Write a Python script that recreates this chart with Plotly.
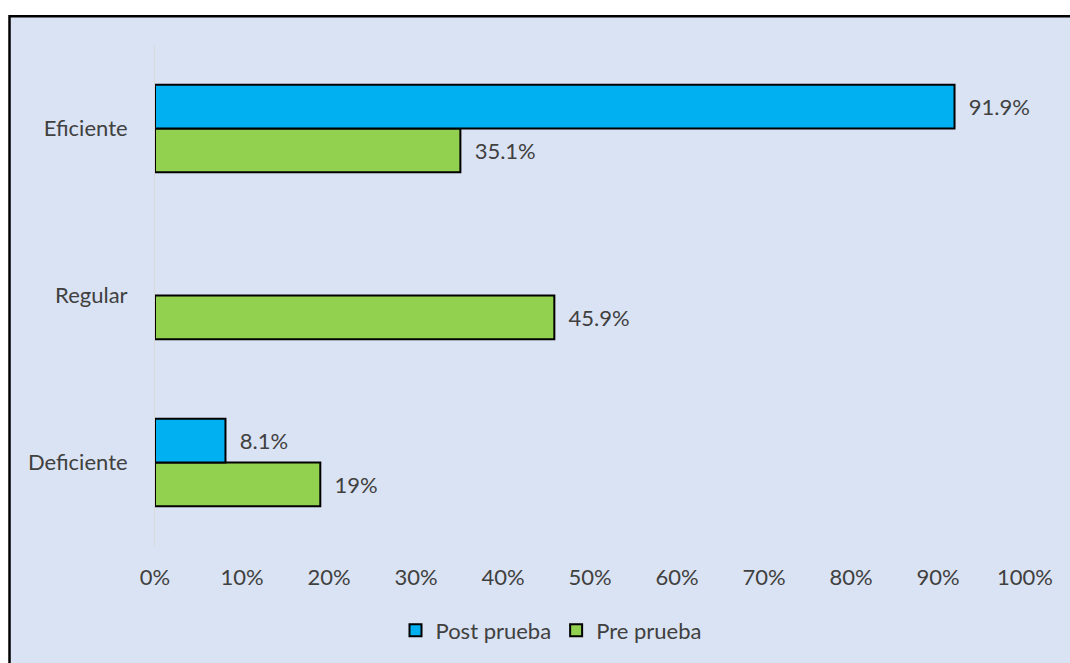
import plotly.graph_objects as go

# Categories (bottom to top) and percentages per series
categories = ["Deficiente", "Regular", "Eficiente"]
post_prueba = [8.1, 0, 91.9]
pre_prueba = [19, 45.9, 35.1]
x_ticks = [0, 10, 20, 30, 40, 50, 60, 70, 80, 90, 100]
x_tick_labels = [f"{t}%" for t in x_ticks]

BLUE = "#00B0F0"
GREEN = "#92D050"
BG = "#DAE3F3"
TEXT = "#404040"
FONT = "Lato"
FS = 22

W, H = 1070, 663
M_L, M_R, M_T, M_B = 155, 45, 45, 113


def px_x(px):
    return (px - M_L) / (W - M_L - M_R)


def px_y(py):
    return (H - M_B - py) / (H - M_T - M_B)


def label(v):
    return "" if v == 0 else "\u00a0\u00a0" + f"{v:g}%"


def outline(values):
    # no border on empty bars
    return [0 if v == 0 else 2 for v in values]


fig = go.Figure()
# Pre prueba first so it sits below Post prueba within each group
fig.add_trace(go.Bar(
    name="Pre prueba", y=categories, x=pre_prueba, orientation="h",
    marker=dict(color=GREEN, line=dict(color="black", width=outline(pre_prueba))),
    text=[label(v) for v in pre_prueba], textposition="outside",
    constraintext="none", cliponaxis=False,
    textfont=dict(family=FONT, size=FS, color=TEXT),
    legendrank=2,
))
fig.add_trace(go.Bar(
    name="Post prueba", y=categories, x=post_prueba, orientation="h",
    marker=dict(color=BLUE, line=dict(color="black", width=outline(post_prueba))),
    text=[label(v) for v in post_prueba], textposition="outside",
    constraintext="none", cliponaxis=False,
    textfont=dict(family=FONT, size=FS, color=TEXT),
    legendrank=1,
))

# Chart frame: filled panel with a black border
fig.add_shape(
    type="rect", xref="paper", yref="paper", layer="below",
    x0=px_x(9.5), x1=px_x(1090), y0=px_y(690), y1=px_y(16),
    fillcolor=BG, line=dict(color="black", width=2.5),
)

fig.update_layout(
    width=W, height=H,
    margin=dict(l=M_L, r=M_R, t=M_T, b=M_B),
    paper_bgcolor="white",
    plot_bgcolor="rgba(0,0,0,0)",
    barmode="group", bargap=0.476, bargroupgap=0,
    font=dict(family=FONT, size=FS, color=TEXT),
    showlegend=True,
    legend=dict(
        orientation="h", x=px_x(551), xanchor="center",
        y=px_y(635), yanchor="middle",
        font=dict(family=FONT, size=FS, color=TEXT),
        bgcolor="rgba(0,0,0,0)",
    ),
    xaxis=dict(
        range=[0, 100], tickvals=x_ticks, ticktext=x_tick_labels,
        showgrid=False, zeroline=False, showline=False,
        ticks="", ticklabelstandoff=16,
        tickfont=dict(family=FONT, size=FS, color=TEXT),
    ),
    yaxis=dict(
        categoryorder="array", categoryarray=categories,
        range=[-0.5, 2.5],
        showgrid=False, zeroline=False,
        showline=True, linecolor="#D9D9D9", linewidth=1,
        ticks="", ticklabelstandoff=22,
        tickfont=dict(family=FONT, size=FS, color=TEXT),
    ),
)

fig.write_html("out.html")
